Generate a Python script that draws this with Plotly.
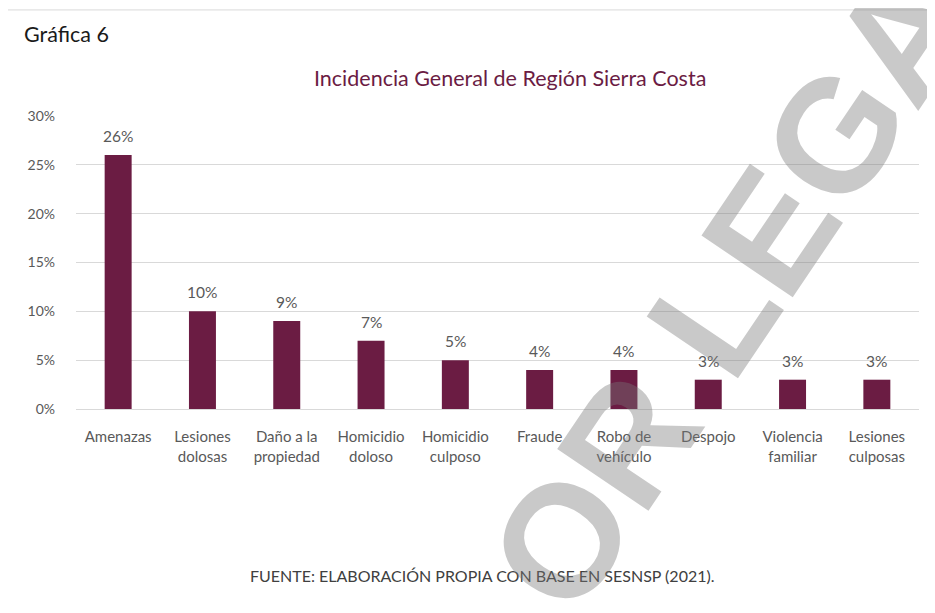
import plotly.graph_objects as go

categories = ["Amenazas", "Lesiones<br>dolosas", "Daño a la<br>propiedad", "Homicidio<br>doloso",
              "Homicidio<br>culposo", "Fraude", "Robo de<br>vehículo", "Despojo",
              "Violencia<br>familiar", "Lesiones<br>culposas"]
values = [0.26, 0.10, 0.09, 0.07, 0.05, 0.04, 0.04, 0.03, 0.03, 0.03]
y_ticks = [0, 0.05, 0.10, 0.15, 0.20, 0.25, 0.30]
y_tick_labels = ["0%", "5%", "10%", "15%", "20%", "25%", "30%"]

BAR = "#6B1C43"
GRAY = "#595959"
FONT = "Lato"

fig = go.Figure()
fig.add_trace(go.Bar(x=categories, y=values, marker=dict(color=BAR, line=dict(width=0)),
                     hoverinfo="skip"))

annotations = []
for c, v in zip(categories, values):
    annotations.append(dict(x=c, y=v, xref="x", yref="y", text=f"{round(v*100)}%",
                            showarrow=False, yanchor="bottom", yshift=8,
                            font=dict(family=FONT, size=15.5, color=GRAY)))

annotations += [
    dict(text="Gráfica 6", xref="paper", yref="paper", x=-0.064, y=1.28,
         xanchor="left", yanchor="middle", showarrow=False,
         font=dict(family=FONT, size=21.5, color="#1a1a1a")),
    dict(text="Incidencia General de Región Sierra Costa", xref="paper", yref="paper",
         x=0.515, y=1.128, xanchor="center", yanchor="middle", showarrow=False,
         font=dict(family=FONT, size=21.5, color="#6B1C43")),
    dict(text="FUENTE: ELABORACIÓN PROPIA CON BASE EN SESNSP (2021).", xref="paper", yref="paper",
         x=0.482, y=-0.567, xanchor="center", yanchor="middle", showarrow=False,
         font=dict(family=FONT, size=16, color="#404040")),
    dict(text="<b>SIN VALOR LEGAL</b>", xref="paper", yref="paper",
         x=0.604, y=-0.33, xanchor="center", yanchor="middle", showarrow=False,
         textangle=-56,
         font=dict(family="Liberation Sans", size=160, color="rgba(120,120,120,0.40)")),
]

fig.update_layout(
    width=935, height=613,
    margin=dict(l=68, r=24, t=108, b=212),
    paper_bgcolor="white", plot_bgcolor="white",
    bargap=0.68, showlegend=False,
    annotations=annotations,
    shapes=[
        dict(type="line", xref="paper", yref="paper", x0=-0.084, x1=1.04, y0=1.362, y1=1.362,
             line=dict(color="#d9d9d9", width=1), layer="below"),
        dict(type="line", xref="paper", yref="paper", x0=-0.084, x1=-0.084, y0=1.362, y1=-0.75,
             line=dict(color="#d9d9d9", width=1), layer="below"),
    ],
    xaxis=dict(showgrid=False, tickfont=dict(family=FONT, size=15, color=GRAY),
               showline=True, linecolor="#d9d9d9", ticks="", ticklabelstandoff=14,
               tickangle=0),
    yaxis=dict(range=[0, 0.30], tickvals=y_ticks, ticktext=y_tick_labels,
               showgrid=True, gridcolor="#d9d9d9", zeroline=False,
               tickfont=dict(family=FONT, size=14, color=GRAY), ticklabelstandoff=20),
)

fig.write_html("out.html")
